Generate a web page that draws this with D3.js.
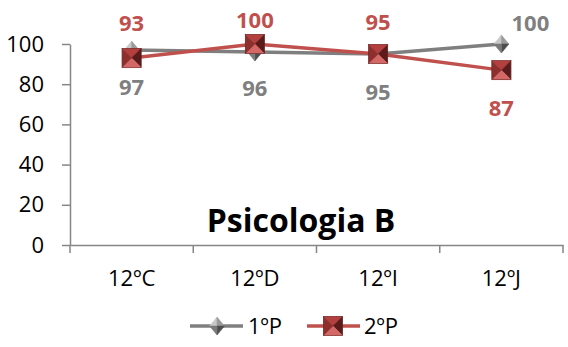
<!DOCTYPE html>
<html><head><meta charset="utf-8">
<script src="https://cdn.jsdelivr.net/npm/d3@7"></script>
<style>
html,body{margin:0;padding:0;background:#fff;}
svg{display:block;font-family:"Open Sans",sans-serif;}
</style></head>
<body>
<svg id="chart" width="568" height="347"></svg>
<script>
const categories = ["12ºC", "12ºD", "12ºI", "12ºJ"];
const series1Name = "1ºP";
const series1Values = [97, 96, 95, 100];
const series2Name = "2ºP";
const series2Values = [93, 100, 95, 87];
const yTicks = [0, 20, 40, 60, 80, 100];
const title = "Psicologia B";

// label placement (layout only)
const lab1 = [[0, 37], [0, 36], [0, 38], [29, -21]];
const lab2 = [[0, -35], [0, -24], [0, -32], [0, 38]];

const FONT = "Open Sans, sans-serif";
const grayC = "#7f7f7f", redC = "#c0504d";
const svg = d3.select("#chart");

const x = d3.scaleBand().domain(categories).range([70, 563]).padding(0);
const y = d3.scaleLinear().domain([0, 100]).range([245, 44]);

// y axis
const yAxis = svg.append("g").attr("transform", "translate(70,0)")
  .call(d3.axisLeft(y).tickValues(yTicks).tickSize(8).tickPadding(18).tickSizeOuter(0));
yAxis.select(".domain").attr("stroke", "#868686").attr("stroke-width", 1.5);
yAxis.selectAll(".tick line").attr("stroke", "#868686").attr("stroke-width", 1.5);
yAxis.selectAll(".tick text").attr("font-size", 22).attr("fill", "#000")
  .attr("font-family", FONT);

// x axis
const xAxis = svg.append("g").attr("transform", "translate(0,245)")
  .call(d3.axisBottom(x).tickSize(0).tickPadding(25).tickSizeOuter(0));
xAxis.select(".domain").attr("stroke", "#868686").attr("stroke-width", 1.5);
xAxis.selectAll(".tick text").attr("font-size", 22).attr("fill", "#000")
  .attr("font-family", FONT);
const bounds = categories.map(c => x(c)).concat([x(categories[categories.length - 1]) + x.bandwidth()]);
svg.append("g").selectAll("line").data(bounds).join("line")
  .attr("x1", d => d).attr("x2", d => d).attr("y1", 245).attr("y2", 253)
  .attr("stroke", "#868686").attr("stroke-width", 1.5);

// title
svg.append("text").attr("x", 301).attr("y", 232).attr("text-anchor", "middle")
  .attr("font-family", FONT)
  .attr("font-size", 32).attr("font-weight", "bold").attr("fill", "#000").text(title);

const cx = c => x(c) + x.bandwidth() / 2;
const line = d3.line().x((d, i) => cx(categories[i])).y(d => y(d));

function diamond(g, px, py) {
  const w = 7.5, h = 9;
  const pts = [[px, py - h], [px + w, py], [px, py + h], [px - w, py]];
  const cols = ["#c9c9c9", "#9a9a9a", "#4d4d4d", "#7a7a7a"]; // TL, TR, BR, BL
  const faces = [[3, 0], [0, 1], [1, 2], [2, 3]];
  faces.forEach((f, k) => {
    g.append("path").attr("d", `M${px},${py}L${pts[f[0]].join(",")}L${pts[f[1]].join(",")}Z`)
      .attr("fill", cols[k]).attr("stroke", cols[k]).attr("stroke-width", 0.5);
  });
}
function square(g, px, py) {
  const s = 9.5;
  const c = [[px - s, py - s], [px + s, py - s], [px + s, py + s], [px - s, py + s]];
  const cols = ["#b3403e", "#5b1b1a", "#d46866", "#8e2f2d"]; // top, right, bottom, left
  for (let k = 0; k < 4; k++) {
    const a = c[k], b = c[(k + 1) % 4];
    g.append("path").attr("d", `M${px},${py}L${a.join(",")}L${b.join(",")}Z`)
      .attr("fill", cols[k]).attr("stroke", cols[k]).attr("stroke-width", 0.5);
  }
  g.append("rect").attr("x", px - s).attr("y", py - s).attr("width", 2 * s).attr("height", 2 * s)
    .attr("fill", "none").attr("stroke", "#6b2322").attr("stroke-width", 0.6);
}

// series lines
svg.append("path").datum(series1Values).attr("d", line)
  .attr("fill", "none").attr("stroke", grayC).attr("stroke-width", 3.5);
svg.append("path").datum(series2Values).attr("d", line)
  .attr("fill", "none").attr("stroke", redC).attr("stroke-width", 3.5);

const m1 = svg.append("g"), m2 = svg.append("g");
series1Values.forEach((v, i) => diamond(m1, cx(categories[i]), y(v)));
series2Values.forEach((v, i) => square(m2, cx(categories[i]), y(v)));

// data labels
svg.append("g").selectAll("text").data(series1Values).join("text")
  .attr("x", (d, i) => cx(categories[i]) + lab1[i][0])
  .attr("y", (d, i) => y(d) + lab1[i][1])
  .attr("dy", "0.36em").attr("text-anchor", "middle").attr("font-family", FONT)
  .attr("font-size", 22).attr("font-weight", "bold").attr("fill", grayC).text(d => d);
svg.append("g").selectAll("text").data(series2Values).join("text")
  .attr("x", (d, i) => cx(categories[i]) + lab2[i][0])
  .attr("y", (d, i) => y(d) + lab2[i][1])
  .attr("dy", "0.36em").attr("text-anchor", "middle").attr("font-family", FONT)
  .attr("font-size", 22).attr("font-weight", "bold").attr("fill", redC).text(d => d);

// legend
const lg = svg.append("g");
lg.append("line").attr("x1", 190).attr("x2", 243).attr("y1", 326).attr("y2", 326)
  .attr("stroke", grayC).attr("stroke-width", 3.5);
diamond(lg, 217, 326);
lg.append("text").attr("x", 248).attr("y", 326).attr("dy", "0.36em").attr("font-family", FONT)
  .attr("font-size", 22).attr("fill", "#000").text(series1Name);
lg.append("line").attr("x1", 307).attr("x2", 360).attr("y1", 326).attr("y2", 326)
  .attr("stroke", redC).attr("stroke-width", 3.5);
square(lg, 333, 326);
lg.append("text").attr("x", 364).attr("y", 326).attr("dy", "0.36em").attr("font-family", FONT)
  .attr("font-size", 22).attr("fill", "#000").text(series2Name);
</script>
</body></html>
